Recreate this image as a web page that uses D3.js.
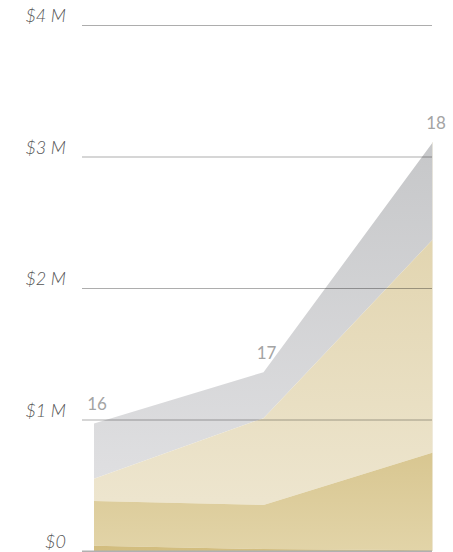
<!DOCTYPE html>
<html><head><meta charset="utf-8">
<script src="https://cdn.jsdelivr.net/npm/d3@7"></script>
<style>body{margin:0;background:#fff}svg{display:block}</style>
</head><body>
<script>
const years = ["16","17","18"];
const layerBase = [0.04, 0.015, 0.005];
const layerDark = [0.34, 0.335, 0.745];
const layerLight = [0.17, 0.66, 1.62];
const layerGrey = [0.42, 0.35, 0.74];
const tickValues = [0,1,2,3,4];
const tickLabels = ["$0","$1 M","$2 M","$3 M","$4 M"];

const W=453,H=552;
const svg=d3.select("body").append("svg").attr("width",W).attr("height",H);
const x=d3.scalePoint().domain(years).range([94,433]);
const y=d3.scaleLinear().domain([0,4]).range([551,25]);

const table=years.map((yr,i)=>({year:yr,base:layerBase[i],dark:layerDark[i],light:layerLight[i],grey:layerGrey[i]}));
const keys=["base","dark","light","grey"];
const stack=d3.stack().keys(keys)(table);

const defs=svg.append("defs");
const grads={
  base:["#c9b06e","#d3be80",500,551],
  dark:["#d8c690","#e2d4a8",450,551],
  light:["#e2d5b0","#ede5ce",240,500],
  grey:["#c6c7c9","#e2e2e4",140,520]
};
keys.forEach(k=>{
  const g=defs.append("linearGradient").attr("id","g-"+k).attr("gradientUnits","userSpaceOnUse")
    .attr("x1",0).attr("y1",grads[k][2]).attr("x2",0).attr("y2",grads[k][3]);
  g.append("stop").attr("offset","0%").attr("stop-color",grads[k][0]);
  g.append("stop").attr("offset","100%").attr("stop-color",grads[k][1]);
});

const area=d3.area().x(d=>x(d.data.year)).y0(d=>y(d[0])).y1(d=>y(d[1]));
svg.append("g").selectAll("path").data(stack.slice().reverse()).join("path")
  .attr("d",area).attr("fill",d=>`url(#g-${d.key})`);

// right edge highlight
svg.append("line").attr("x1",x("18")-0.5).attr("x2",x("18")-0.5)
  .attr("y1",y(0)).attr("y2",y(stack[3][2][1]))
  .attr("stroke","#f3efe4").attr("stroke-width",1).attr("opacity",0.7);

// gridlines
const grid=svg.append("g");
grid.selectAll("line").data(tickValues).join("line")
  .attr("x1",82).attr("x2",432)
  .attr("y1",d=>y(d)+0.5).attr("y2",d=>y(d)+0.5)
  .attr("stroke",d=>d===0?"#b0b0b0":"rgba(0,0,0,0.32)")
  .attr("stroke-width",d=>d===0?2:1);

grid.selectAll("text").data(tickValues).join("text")
  .attr("x",66).attr("y",d=>y(d)-3)
  .attr("text-anchor","end")
  .attr("font-family","Lato, sans-serif").attr("font-weight",300).attr("font-style","italic")
  .attr("font-size",18).attr("fill","#555")
  .text((d,i)=>tickLabels[i]);

// year labels
svg.append("g").selectAll("text").data(table).join("text")
  .attr("x",d=>x(d.year)+3).attr("y",d=>y(stack[3][years.indexOf(d.year)][1])-13)
  .attr("text-anchor","middle")
  .attr("font-family","Lato, sans-serif").attr("font-weight",400)
  .attr("font-size",17).attr("fill","#a4a4a4")
  .text(d=>d.year);
</script>
</body></html>
